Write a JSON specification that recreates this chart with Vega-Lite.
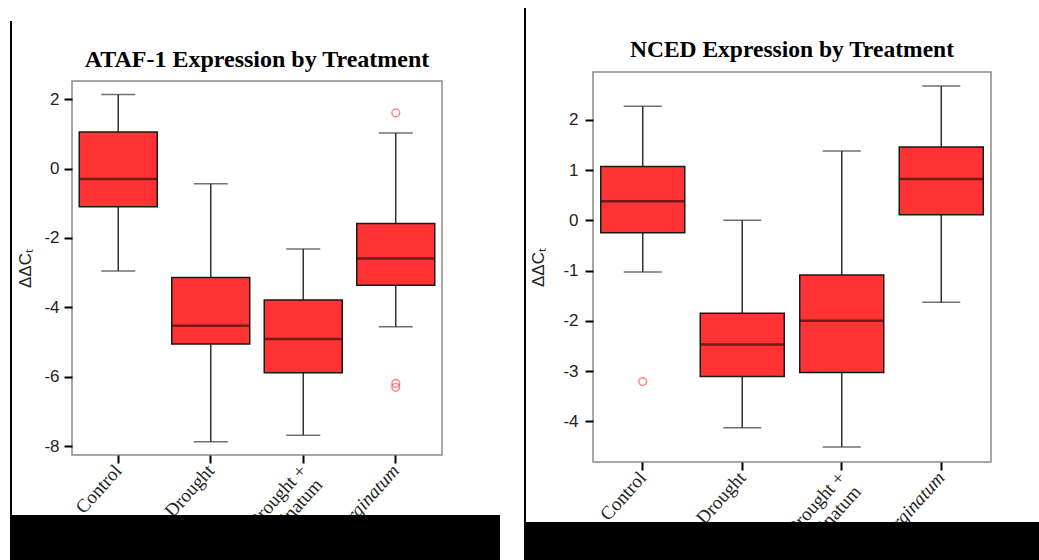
{
  "$schema": "https://vega.github.io/schema/vega-lite/v6.json",
  "background": "white",
  "padding": {"left": 10, "top": 8, "right": 0, "bottom": 0},
  "autosize": {"type": "pad"},
  "datasets": {
    "ataf": [
      {"Treatment": "Control", "min": -2.95, "q1": -1.10, "median": -0.30, "q3": 1.05, "max": 2.13},
      {"Treatment": "Drought", "min": -7.87, "q1": -5.05, "median": -4.53, "q3": -3.14, "max": -0.44},
      {"Treatment": "Drought + T. marginatum", "min": -7.68, "q1": -5.88, "median": -4.91, "q3": -3.79, "max": -2.32},
      {"Treatment": "T. marginatum", "min": -4.56, "q1": -3.36, "median": -2.59, "q3": -1.58, "max": 1.02}
    ],
    "ataf_out": [
      {"Treatment": "T. marginatum", "value": 1.60},
      {"Treatment": "T. marginatum", "value": -6.19},
      {"Treatment": "T. marginatum", "value": -6.30}
    ],
    "nced": [
      {"Treatment": "Control", "min": -1.03, "q1": -0.25, "median": 0.38, "q3": 1.07, "max": 2.27},
      {"Treatment": "Drought", "min": -4.13, "q1": -3.11, "median": -2.47, "q3": -1.85, "max": 0.0},
      {"Treatment": "Drought + T. marginatum", "min": -4.51, "q1": -3.03, "median": -2.0, "q3": -1.09, "max": 1.38},
      {"Treatment": "T. marginatum", "min": -1.63, "q1": 0.11, "median": 0.82, "q3": 1.46, "max": 2.67}
    ],
    "nced_out": [
      {"Treatment": "Control", "value": -3.21}
    ],
    "blank": [{"k": 1}]
  },
  "config": {
    "title": {"font": "Liberation Serif", "fontSize": 24, "fontWeight": "bold", "color": "black", "anchor": "middle", "offset": 9},
    "axisX": {
      "title": null, "domain": false, "tickSize": 8, "tickWidth": 2, "tickColor": "black",
      "labelAngle": -48, "labelFont": "Liberation Serif", "labelFontSize": 19, "labelColor": "#222", "labelPadding": 4
    },
    "axisY": {
      "domain": false, "grid": false, "tickSize": 8, "tickWidth": 2, "tickColor": "black",
      "labelFont": "Liberation Sans", "labelFontSize": 17, "labelColor": "#222", "labelExpr": "toString(datum.value)",
      "titleFont": "Liberation Sans", "titleFontSize": 17, "titleFontWeight": "normal", "titleColor": "#222"
    }
  },
  "spacing": 24,
  "hconcat": [
    {
      "spacing": 12,
      "vconcat": [
        {
          "data": {"name": "blank"},
          "width": 1, "height": 1,
          "view": {"fill": null, "stroke": null},
          "mark": {"type": "point", "opacity": 0, "size": 0}
        },
        {
          "columns": 1,
          "align": "none",
          "spacing": -513,
          "concat": [
            {
              "data": {"name": "blank"},
              "width": 2, "height": 539,
              "view": {"fill": "black", "stroke": null},
              "mark": {"type": "point", "opacity": 0, "size": 0}
            },
            {
              "columns": 1,
              "align": "none",
              "spacing": -85,
              "concat": [
                {
                  "spacing": 4,
                  "hconcat": [
                    {
                      "data": {"name": "blank"},
                      "width": 2, "height": 519,
                      "view": {"fill": "black", "stroke": null},
                      "mark": {"type": "point", "opacity": 0, "size": 0}
                    },
                    {
                      "width": 370, "height": 374,
                      "view": {"stroke": "#8c8c8c", "strokeWidth": 1.5},
                      "title": {"text": "ATAF-1 Expression by Treatment"},
                      "encoding": {
                        "x": {
                          "field": "Treatment", "type": "nominal",
                          "scale": {"domain": ["Control", "Drought", "Drought + T. marginatum", "T. marginatum"], "paddingInner": 0, "paddingOuter": 0},
                          "axis": {
                            "labelExpr": "datum.value == 'Drought + T. marginatum' ? ['Drought +', 'T. marginatum'] : datum.label",
                            "labelFontStyle": {"condition": {"test": "datum.value == 'T. marginatum'", "value": "italic"}, "value": "normal"}
                          }
                        }
                      },
                      "layer": [
                        {
                          "data": {"name": "ataf"},
                          "mark": {"type": "rule", "color": "#333", "strokeWidth": 1.5},
                          "encoding": {
                            "y": {"field": "min", "type": "quantitative", "scale": {"domain": [-8.25, 2.52], "nice": false, "zero": false},
                              "axis": {"title": "ΔΔCₜ", "values": [2, 0, -2, -4, -6, -8], "labelPadding": 5, "titlePadding": 9}},
                            "y2": {"field": "max"}
                          }
                        },
                        {
                          "data": {"name": "ataf"},
                          "mark": {"type": "tick", "color": "#333", "thickness": 1.5, "size": 34},
                          "encoding": {"y": {"field": "min", "type": "quantitative", "scale": {"domain": [-8.25, 2.52], "nice": false, "zero": false},
                            "axis": {"title": "ΔΔCₜ", "values": [2, 0, -2, -4, -6, -8], "labelPadding": 5, "titlePadding": 9}}}
                        },
                        {
                          "data": {"name": "ataf"},
                          "mark": {"type": "tick", "color": "#333", "thickness": 1.5, "size": 34},
                          "encoding": {"y": {"field": "max", "type": "quantitative", "scale": {"domain": [-8.25, 2.52], "nice": false, "zero": false},
                            "axis": {"title": "ΔΔCₜ", "values": [2, 0, -2, -4, -6, -8], "labelPadding": 5, "titlePadding": 9}}}
                        },
                        {
                          "data": {"name": "ataf"},
                          "mark": {"type": "bar", "fill": "#FF3333", "stroke": "#1a1a1a", "strokeWidth": 1.5, "size": 78},
                          "encoding": {
                            "y": {"field": "q1", "type": "quantitative", "scale": {"domain": [-8.25, 2.52], "nice": false, "zero": false},
                              "axis": {"title": "ΔΔCₜ", "values": [2, 0, -2, -4, -6, -8], "labelPadding": 5, "titlePadding": 9}},
                            "y2": {"field": "q3"}
                          }
                        },
                        {
                          "data": {"name": "ataf"},
                          "mark": {"type": "tick", "color": "#3a0d0d", "thickness": 2.5, "size": 78},
                          "encoding": {"y": {"field": "median", "type": "quantitative", "scale": {"domain": [-8.25, 2.52], "nice": false, "zero": false},
                            "axis": {"title": "ΔΔCₜ", "values": [2, 0, -2, -4, -6, -8], "labelPadding": 5, "titlePadding": 9}}}
                        },
                        {
                          "data": {"name": "ataf_out"},
                          "mark": {"type": "point", "shape": "circle", "filled": false, "color": "#FF5555", "size": 60, "strokeWidth": 1.5},
                          "encoding": {"y": {"field": "value", "type": "quantitative", "scale": {"domain": [-8.25, 2.52], "nice": false, "zero": false},
                            "axis": {"title": "ΔΔCₜ", "values": [2, 0, -2, -4, -6, -8], "labelPadding": 5, "titlePadding": 9}}}
                        }
                      ]
                    }
                  ]
                },
                {
                  "data": {"name": "blank"},
                  "width": 490, "height": 45,
                  "view": {"fill": "black", "stroke": null},
                  "mark": {"type": "point", "opacity": 0, "size": 0}
                }
              ]
            }
          ]
        }
      ]
    },
    {
      "columns": 1,
      "align": "none",
      "spacing": -524,
      "concat": [
        {
          "data": {"name": "blank"},
          "width": 2, "height": 552,
          "view": {"fill": "black", "stroke": null},
          "mark": {"type": "point", "opacity": 0, "size": 0}
        },
        {
          "columns": 1,
          "align": "none",
          "spacing": -79,
          "concat": [
            {
              "spacing": 3,
              "hconcat": [
                {
                  "data": {"name": "blank"},
                  "width": 2, "height": 529,
                  "view": {"fill": "black", "stroke": null},
                  "mark": {"type": "point", "opacity": 0, "size": 0}
                },
                {
                  "width": 398, "height": 390,
                  "view": {"stroke": "#8c8c8c", "strokeWidth": 1.5},
                  "title": {"text": "NCED Expression by Treatment", "fontSize": 23.5, "offset": 11},
                  "encoding": {
                    "x": {
                      "field": "Treatment", "type": "nominal",
                      "scale": {"domain": ["Control", "Drought", "Drought + T. marginatum", "T. marginatum"], "paddingInner": 0, "paddingOuter": 0},
                      "axis": {
                        "labelExpr": "datum.value == 'Drought + T. marginatum' ? ['Drought +', 'T. marginatum'] : datum.label",
                        "labelFontStyle": {"condition": {"test": "datum.value == 'T. marginatum'", "value": "italic"}, "value": "normal"}
                      }
                    }
                  },
                  "layer": [
                    {
                      "data": {"name": "nced"},
                      "mark": {"type": "rule", "color": "#333", "strokeWidth": 1.5},
                      "encoding": {
                        "y": {"field": "min", "type": "quantitative", "scale": {"domain": [-4.81, 2.95], "nice": false, "zero": false},
                          "axis": {"title": "ΔΔCₜ", "values": [2, 1, 0, -1, -2, -3, -4], "labelPadding": 7, "titlePadding": 15}},
                        "y2": {"field": "max"}
                      }
                    },
                    {
                      "data": {"name": "nced"},
                      "mark": {"type": "tick", "color": "#333", "thickness": 1.5, "size": 38},
                      "encoding": {"y": {"field": "min", "type": "quantitative", "scale": {"domain": [-4.81, 2.95], "nice": false, "zero": false},
                        "axis": {"title": "ΔΔCₜ", "values": [2, 1, 0, -1, -2, -3, -4], "labelPadding": 7, "titlePadding": 15}}}
                    },
                    {
                      "data": {"name": "nced"},
                      "mark": {"type": "tick", "color": "#333", "thickness": 1.5, "size": 38},
                      "encoding": {"y": {"field": "max", "type": "quantitative", "scale": {"domain": [-4.81, 2.95], "nice": false, "zero": false},
                        "axis": {"title": "ΔΔCₜ", "values": [2, 1, 0, -1, -2, -3, -4], "labelPadding": 7, "titlePadding": 15}}}
                    },
                    {
                      "data": {"name": "nced"},
                      "mark": {"type": "bar", "fill": "#FF3333", "stroke": "#1a1a1a", "strokeWidth": 1.5, "size": 84},
                      "encoding": {
                        "y": {"field": "q1", "type": "quantitative", "scale": {"domain": [-4.81, 2.95], "nice": false, "zero": false},
                          "axis": {"title": "ΔΔCₜ", "values": [2, 1, 0, -1, -2, -3, -4], "labelPadding": 7, "titlePadding": 15}},
                        "y2": {"field": "q3"}
                      }
                    },
                    {
                      "data": {"name": "nced"},
                      "mark": {"type": "tick", "color": "#3a0d0d", "thickness": 2.5, "size": 84},
                      "encoding": {"y": {"field": "median", "type": "quantitative", "scale": {"domain": [-4.81, 2.95], "nice": false, "zero": false},
                        "axis": {"title": "ΔΔCₜ", "values": [2, 1, 0, -1, -2, -3, -4], "labelPadding": 7, "titlePadding": 15}}}
                    },
                    {
                      "data": {"name": "nced_out"},
                      "mark": {"type": "point", "shape": "circle", "filled": false, "color": "#FF5555", "size": 60, "strokeWidth": 1.5},
                      "encoding": {"y": {"field": "value", "type": "quantitative", "scale": {"domain": [-4.81, 2.95], "nice": false, "zero": false},
                        "axis": {"title": "ΔΔCₜ", "values": [2, 1, 0, -1, -2, -3, -4], "labelPadding": 7, "titlePadding": 15}}}
                    }
                  ]
                }
              ]
            },
            {
              "data": {"name": "blank"},
              "width": 515, "height": 39,
              "view": {"fill": "black", "stroke": null},
              "mark": {"type": "point", "opacity": 0, "size": 0}
            }
          ]
        }
      ]
    }
  ]
}
